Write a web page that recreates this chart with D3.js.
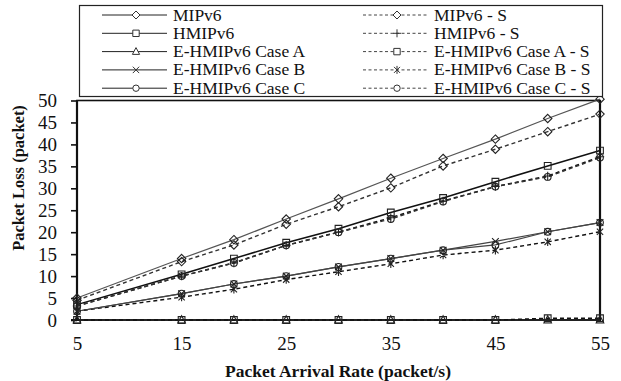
<!DOCTYPE html>
<html>
<head>
<meta charset="utf-8">
<script src="https://cdn.jsdelivr.net/npm/d3@7"></script>
<style>
  html, body { margin: 0; padding: 0; background: #fff; }
  svg { display: block; }
  text { font-family: "Liberation Serif", "DejaVu Serif", serif; fill: #111; }
</style>
</head>
<body>
<svg id="chart" width="621" height="381"></svg>
<script>
// Packet arrival rate (packet/s)
const rates = [5, 15, 20, 25, 30, 35, 40, 45, 50, 55];
const xTicks = [5, 15, 25, 35, 45, 55];
const yTicks = [0, 5, 10, 15, 20, 25, 30, 35, 40, 45, 50];

// Packet loss (packet) per scheme
const mipv6     = [5.0, 14.0, 18.3, 23.0, 27.6, 32.3, 36.8, 41.2, 45.9, 50.3];
const mipv6S    = [4.5, 13.3, 17.1, 21.8, 25.8, 30.1, 35.1, 38.9, 42.9, 46.9];
const hmipv6    = [3.5, 10.4, 14.0, 17.6, 20.8, 24.5, 27.8, 31.5, 35.1, 38.6];
const hmipv6S   = [3.2, 10.0, 13.0, 17.0, 20.0, 23.3, 27.1, 30.4, 32.8, 37.2];
const caseA     = [0, 0, 0, 0, 0, 0, 0, 0, 0, 0];
const caseAS    = [0, 0, 0, 0, 0, 0, 0, 0, 0.4, 0.4];
const caseB     = [2.0, 6.0, 8.2, 10.0, 12.1, 14.0, 15.9, 17.9, 20.1, 22.2];
const caseBS    = [2.0, 5.2, 7.0, 9.2, 11.0, 12.8, 14.8, 15.9, 17.8, 20.1];
const caseC     = [2.0, 6.0, 8.2, 10.0, 12.1, 14.0, 15.9, 17.1, 20.1, 22.2];
const caseCS    = [3.2, 10.0, 13.0, 17.0, 20.0, 23.0, 27.0, 30.4, 32.6, 37.0];

const series = [
  { name: "MIPv6",                 values: mipv6,   marker: "diamond",  dashed: false, color: "#555", width: 1.2 },
  { name: "MIPv6 - S",             values: mipv6S,  marker: "diamond",  dashed: true,  color: "#333", width: 1.4 },
  { name: "HMIPv6",                values: hmipv6,  marker: "square",   dashed: false, color: "#111", width: 1.5 },
  { name: "HMIPv6 - S",            values: hmipv6S, marker: "plus",     dashed: true,  color: "#111", width: 1.5 },
  { name: "E-HMIPv6 Case A",       values: caseA,   marker: "triangle", dashed: false, color: "#333", width: 1.2 },
  { name: "E-HMIPv6 Case A - S",   values: caseAS,  marker: "square",   dashed: true,  color: "#111", width: 1.4 },
  { name: "E-HMIPv6 Case B",       values: caseB,   marker: "x",        dashed: false, color: "#444", width: 1.2 },
  { name: "E-HMIPv6 Case B - S",   values: caseBS,  marker: "asterisk", dashed: true,  color: "#111", width: 1.4 },
  { name: "E-HMIPv6 Case C",       values: caseC,   marker: "circle",   dashed: false, color: "#444", width: 1.2 },
  { name: "E-HMIPv6 Case C - S",   values: caseCS,  marker: "circle",   dashed: true,  color: "#333", width: 1.4 }
];

const svg = d3.select("#chart");
const x = d3.scaleLinear().domain([5, 55]).range([77, 600]);
const y = d3.scaleLinear().domain([0, 50]).range([320, 100.5]);

// marker outlines centred on the origin
function markerPath(type, r) {
  switch (type) {
    case "diamond":  return `M0,${-r}L${r},0L0,${r}L${-r},0Z`;
    case "square":   return `M${-r*0.8},${-r*0.8}H${r*0.8}V${r*0.8}H${-r*0.8}Z`;
    case "triangle": return `M0,${-r}L${r*0.9},${r*0.7}L${-r*0.9},${r*0.7}Z`;
    case "circle":   return d3.arc()({ innerRadius: 0, outerRadius: r*0.8, startAngle: 0, endAngle: 2*Math.PI });
    case "plus":     return `M${-r},0H${r}M0,${-r}V${r}`;
    case "x":        return `M${-r*0.8},${-r*0.8}L${r*0.8},${r*0.8}M${r*0.8},${-r*0.8}L${-r*0.8},${r*0.8}`;
    case "asterisk": return `M${-r*0.75},${-r*0.75}L${r*0.75},${r*0.75}M${r*0.75},${-r*0.75}L${-r*0.75},${r*0.75}M0,${-r}V${r}`;
  }
}
const filled = t => ["diamond", "square", "triangle", "circle"].includes(t);

// Y axis ticks and labels
const yAxis = d3.axisLeft(y).tickValues(yTicks).tickSize(6).tickPadding(14).tickFormat(d3.format("d"));
const gy = svg.append("g").attr("transform", "translate(77,0)").call(yAxis);
gy.select(".domain").remove();
gy.selectAll(".tick line").attr("stroke", "#111").attr("stroke-width", 1.6);
gy.selectAll(".tick text").style("font-size", "19px").style("font-family", "'Liberation Serif', serif").attr("fill", "#222");

// X axis labels (no tick marks)
const xAxis = d3.axisBottom(x).tickValues(xTicks).tickSize(0).tickPadding(17).tickFormat(d3.format("d"));
const gx = svg.append("g").attr("transform", "translate(0,320)").call(xAxis);
gx.select(".domain").remove();
gx.selectAll(".tick text").style("font-size", "19px").style("font-family", "'Liberation Serif', serif").attr("fill", "#222");

// plot frame
svg.append("rect").attr("x", 77).attr("y", 100.5).attr("width", 523).attr("height", 219.5)
  .attr("fill", "none").attr("stroke", "#111").attr("stroke-width", 1.6);
svg.append("line").attr("x1", 77).attr("x2", 77).attr("y1", 100).attr("y2", 320).attr("stroke", "#111").attr("stroke-width", 2.2);
svg.append("line").attr("x1", 71).attr("x2", 601).attr("y1", 320).attr("y2", 320).attr("stroke", "#111").attr("stroke-width", 2.2);
svg.append("line").attr("x1", 600).attr("x2", 600).attr("y1", 100).attr("y2", 321).attr("stroke", "#111").attr("stroke-width", 2.2);

// series lines and markers
const line = d3.line().x((d, i) => x(rates[i])).y(d => y(d));
const plot = svg.append("g");
series.forEach(s => {
  plot.append("path").datum(s.values).attr("d", line)
    .attr("fill", "none").attr("stroke", s.color).attr("stroke-width", s.width)
    .attr("stroke-dasharray", s.dashed ? "4,3" : null);
});
series.forEach(s => {
  plot.append("g").selectAll("path").data(s.values).join("path")
    .attr("transform", (d, i) => `translate(${x(rates[i])},${y(d)})`)
    .attr("d", markerPath(s.marker, 4.2))
    .attr("fill", "none")
    .attr("stroke", "#222").attr("stroke-width", 1.1);
});

// legend
const legend = svg.append("g");
legend.append("rect").attr("x", 79.5).attr("y", 5.5).attr("width", 523).attr("height", 91)
  .attr("fill", "#fff").attr("stroke", "#222").attr("stroke-width", 1.2);
const rowY = i => 15 + i * 18.3;
series.forEach((s, k) => {
  const col = k % 2, row = Math.floor(k / 2);
  const yy = rowY(row);
  const x0 = col === 0 ? 102 : 363, x1 = col === 0 ? 167 : 427, mx = col === 0 ? 136 : 397;
  const tx = col === 0 ? 173 : 434;
  legend.append("line").attr("x1", x0).attr("x2", x1).attr("y1", yy).attr("y2", yy)
    .attr("stroke", s.dashed ? "#444" : "#222").attr("stroke-width", 1)
    .attr("stroke-dasharray", s.dashed ? "3,2.5" : null);
  legend.append("path").attr("transform", `translate(${mx},${yy})`)
    .attr("d", markerPath(s.marker, 4))
    .attr("fill", filled(s.marker) ? "#fff" : "none").attr("stroke", "#333").attr("stroke-width", 1);
  legend.append("text").attr("x", tx).attr("y", yy + 5.5).text(s.name)
    .style("font-size", "17.5px");
});

// axis titles
svg.append("text").attr("x", 338).attr("y", 377).attr("text-anchor", "middle")
  .style("font-size", "17.5px").style("font-weight", "bold").text("Packet Arrival Rate (packet/s)");
svg.append("text").attr("transform", "translate(24,178) rotate(-90)").attr("text-anchor", "middle")
  .style("font-size", "16.5px").style("font-weight", "bold").text("Packet Loss (packet)");
</script>
</body>
</html>
